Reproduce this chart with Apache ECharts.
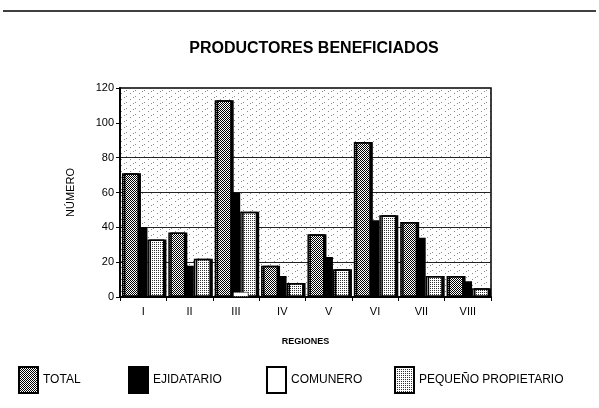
<!DOCTYPE html>
<html lang="es">

<head>
    <meta charset="UTF-8">
    <!--引入echarts-->
    <script src="https://cdn.jsdelivr.net/npm/echarts@6/dist/echarts.min.js"></script>
    <title>Productores beneficiados</title>
    <style>
        body { margin: 0; background: #fff; }
        #main { width: 599px; height: 408px; }
    </style>
</head>

<body>
    <div id="main"></div>

    <script>
        // regiones
        var regiones = ['I', 'II', 'III', 'IV', 'V', 'VI', 'VII', 'VIII'];
        // valores
        var total = [71, 37, 113, 18, 36, 89, 43, 12];
        var ejidatario = [40, 18, 60, 12, 23, 44, 34, 9];
        var comunero = [0, 0, 3, 0, 0, 0, 0, 0];
        var pequenoPropietario = [33, 22, 49, 8, 16, 47, 12, 5];
        var yTicks = [0, 20, 40, 60, 80, 100, 120];

        var font = 'Liberation Sans, Arial, sans-serif';

        // pequeños patrones de trama (tipo impresion antigua)
        function makePattern(size, dots, bg, fg) {
            var c = document.createElement('canvas');
            c.width = size[0];
            c.height = size[1];
            var ctx = c.getContext('2d');
            ctx.fillStyle = bg;
            ctx.fillRect(0, 0, c.width, c.height);
            ctx.fillStyle = fg;
            for (var i = 0; i < dots.length; i++) {
                ctx.fillRect(dots[i][0], dots[i][1], 1, 1);
            }
            return { image: c, repeat: 'repeat' };
        }

        var checker = makePattern([2, 2], [[0, 0], [1, 1]], '#ffffff', '#000000');
        var lightDots = makePattern([2, 2], [[0, 0]], '#ffffff', '#333333');
        var bgDots = makePattern([9, 6], [[0, 0], [4, 3], [7, 1]], '#ffffff', '#8a8a8a');

        var names = ['TOTAL', 'EJIDATARIO', 'COMUNERO', 'PEQUEÑO PROPIETARIO'];
        var dataSets = [total, ejidatario, comunero, pequenoPropietario];
        var styles = [
            { color: checker, borderColor: '#000', borderWidth: 1.5, shadowColor: '#000', shadowOffsetX: 2 },
            { color: '#000', borderColor: '#000', borderWidth: 1.5 },
            { color: '#fff', borderColor: '#000', borderWidth: 1, borderType: 'dotted' },
            { color: lightDots, borderColor: '#000', borderWidth: 1.5, shadowColor: '#000', shadowOffsetX: 2 }
        ];
        // barras solapadas: total al frente, pequeño propietario al fondo
        var zs = [6, 4, 5, 3];
        var legendLeft = [13, 123, 261, 389];

        var series = [];
        var legends = [];
        for (var i = 0; i < names.length; i++) {
            series.push({
                name: names[i],
                type: 'bar',
                data: dataSets[i],
                z: zs[i],
                barWidth: 17,
                barGap: '-50%',
                itemStyle: styles[i]
            });
            legends.push({
                data: [names[i]],
                left: legendLeft[i],
                top: 361,
                icon: 'rect',
                itemWidth: 19,
                itemHeight: 26,
                itemGap: 6,
                textStyle: { fontFamily: font, fontSize: 12, color: '#000' }
            });
        }

        var myChart = echarts.init(document.getElementById('main'));
        var option = {
            backgroundColor: '#fff',
            animation: false,
            title: {
                text: 'PRODUCTORES BENEFICIADOS',
                left: 309,
                textAlign: 'center',
                top: 36,
                textStyle: { fontFamily: font, fontSize: 16, fontWeight: 'bold', color: '#000' }
            },
            legend: legends,
            grid: {
                left: 120,
                right: 108,
                top: 88,
                bottom: 111,
                show: true,
                backgroundColor: bgDots,
                borderColor: '#000',
                borderWidth: 1.5
            },
            xAxis: {
                type: 'category',
                data: regiones,
                name: 'REGIONES',
                nameLocation: 'middle',
                nameGap: 40,
                nameTextStyle: { fontFamily: font, fontSize: 9, fontWeight: 'bold', color: '#000' },
                axisLine: { lineStyle: { color: '#000', width: 2 } },
                axisTick: { show: true, length: 4, lineStyle: { color: '#000' } },
                axisLabel: { fontFamily: font, fontSize: 11, color: '#000', margin: 9 }
            },
            yAxis: {
                type: 'value',
                min: yTicks[0],
                max: yTicks[yTicks.length - 1],
                interval: 20,
                name: 'NÚMERO',
                nameLocation: 'middle',
                nameGap: 44,
                nameTextStyle: { fontFamily: font, fontSize: 11, color: '#000' },
                axisLine: { show: true, lineStyle: { color: '#000', width: 2 } },
                axisTick: { show: true, length: 4, lineStyle: { color: '#000' } },
                axisLabel: { fontFamily: font, fontSize: 11, color: '#000', margin: 6 },
                splitLine: {
                    show: true,
                    //solo 20-80 tienen linea
                    lineStyle: { color: ['transparent', '#222', '#222', '#222', '#222', 'transparent', 'transparent'], width: 1 }
                }
            },
            graphic: [{
                type: 'line',
                shape: { x1: 3, y1: 11, x2: 596, y2: 11 },
                style: { stroke: '#000', lineWidth: 1.5 }
            }],
            series: series
        };
        myChart.setOption(option);
    </script>

</body>

</html>
